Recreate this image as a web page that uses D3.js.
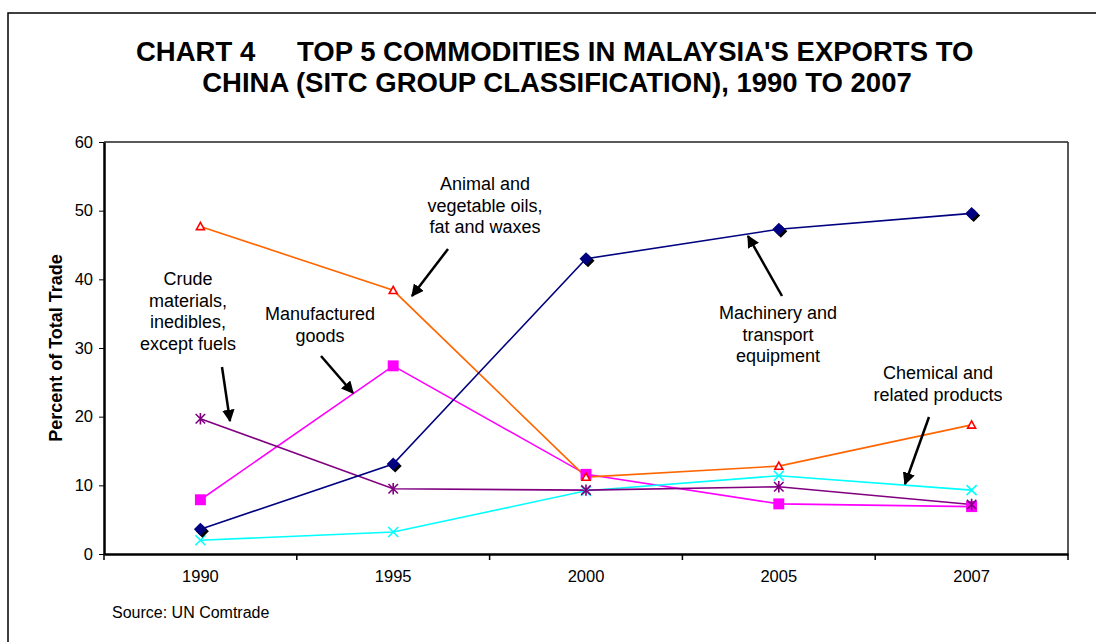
<!DOCTYPE html>
<html>
<head>
<meta charset="utf-8">
<script src="https://cdn.jsdelivr.net/npm/d3@7"></script>
<style>
  body { margin: 0; background: #fff; }
  svg { display: block; font-family: Arial, "Liberation Sans", sans-serif; }
</style>
</head>
<body>
<div id="chart"></div>
<script>
// ------------------------------------------------------------------------ //
// DATA
// ------------------------------------------------------------------------ //

var years = ["1990", "1995", "2000", "2005", "2007"];
var machinery    = [3.6, 13.1, 43.0, 47.3, 49.6];
var animalOils   = [47.7, 38.4, 11.2, 12.8, 18.8];
var manufactured = [7.9, 27.4, 11.6, 7.3, 6.9];
var crude        = [19.7, 9.5, 9.3, 9.8, 7.2];
var chemical     = [2.0, 3.2, 9.2, 11.4, 9.3];
var yTicks = [0, 10, 20, 30, 40, 50, 60];

// ------------------------------------------------------------------------ //
// SVG AREA
// ------------------------------------------------------------------------ //

var W = 1096, H = 642;
var margin = {top: 142, right: 28, bottom: 88, left: 104},
  width = W - margin.left - margin.right,
  height = H - margin.top - margin.bottom;

var svg = d3.select("#chart")
  .append("svg")
    .attr("width", W)
    .attr("height", H);

// outer frame (runs off the right and bottom of the picture)
svg.append("rect")
  .attr("x", 8).attr("y", 13)
  .attr("width", W + 20).attr("height", H + 20)
  .style("fill", "none")
  .style("stroke", "#000")
  .style("stroke-width", 1.5);

// title
var titleSize = "27.5px";
svg.append("text")
  .attr("x", 136).attr("y", 61)
  .style("font-size", titleSize).style("font-weight", "bold")
  .text("CHART 4");
svg.append("text")
  .attr("x", 297).attr("y", 61)
  .style("font-size", titleSize).style("font-weight", "bold")
  .text("TOP 5 COMMODITIES IN MALAYSIA'S EXPORTS TO");
svg.append("text")
  .attr("x", 557).attr("y", 92)
  .style("font-size", titleSize).style("font-weight", "bold")
  .style("text-anchor", "middle")
  .text("CHINA (SITC GROUP CLASSIFICATION), 1990 TO 2007");

var g = svg.append("g")
  .attr("transform", "translate(" + margin.left + "," + margin.top + ")");

// ------------------------------------------------------------------------ //
// AXIS AND SCALES
// ------------------------------------------------------------------------ //

var x = d3.scaleBand()
  .range([0, width])
  .domain(years);

var y = d3.scaleLinear()
  .range([height, 0])
  .domain([0, 60]);

// plot frame: top and right
g.append("line")
  .attr("x1", 0).attr("x2", width).attr("y1", 0).attr("y2", 0)
  .style("stroke", "#222").style("stroke-width", 1.5);
g.append("line")
  .attr("x1", width).attr("x2", width).attr("y1", 0).attr("y2", height)
  .style("stroke", "#222").style("stroke-width", 1.5);

var tickFont = "16.5px";

// Y axis
var yAxis = g.append("g")
  .call(d3.axisLeft(y).tickValues(yTicks).tickSize(5).tickPadding(6).tickSizeOuter(0));
yAxis.select(".domain").style("stroke-width", 2.5);
yAxis.selectAll("text").style("font-size", tickFont).style("font-family", "Arial, 'Liberation Sans', sans-serif");

// X axis labels (centred in the bands)
var xAxis = g.append("g")
  .attr("transform", "translate(0," + height + ")")
  .call(d3.axisBottom(x).tickSize(0).tickPadding(16).tickSizeOuter(0));
xAxis.select(".domain").style("stroke-width", 2.5);
xAxis.selectAll("text").style("font-size", tickFont).style("font-family", "Arial, 'Liberation Sans', sans-serif");

// X tick marks on the band boundaries
var boundaries = years.map(function(d){ return x(d) }).concat([x(years[years.length - 1]) + x.bandwidth()]);
g.selectAll(".xBoundTick")
  .data(boundaries)
  .enter()
  .append("line")
    .attr("class", "xBoundTick")
    .attr("x1", function(d){ return d }).attr("x2", function(d){ return d })
    .attr("y1", height).attr("y2", height + 6)
    .style("stroke", "#000").style("stroke-width", 1.5);

// Y axis title
svg.append("text")
  .attr("transform", "translate(62," + (margin.top + height / 2) + ")rotate(-90)")
  .style("text-anchor", "middle")
  .style("font-size", "18px").style("font-weight", "bold")
  .text("Percent of Total Trade");

// source
svg.append("text")
  .attr("x", 112).attr("y", 618)
  .style("font-size", "16px")
  .text("Source: UN Comtrade");

// ------------------------------------------------------------------------ //
// SHAPES
// ------------------------------------------------------------------------ //

// custom marker shapes
var symbolX = {
  draw: function(ctx, size) {
    var r = Math.sqrt(size) / 2;
    ctx.moveTo(-r, -r); ctx.lineTo(r, r);
    ctx.moveTo(-r, r); ctx.lineTo(r, -r);
  }
};
var symbolStar = {
  draw: function(ctx, size) {
    var r = Math.sqrt(size) / 2;
    ctx.moveTo(-r, -r); ctx.lineTo(r, r);
    ctx.moveTo(-r, r); ctx.lineTo(r, -r);
    ctx.moveTo(0, -r * 1.2); ctx.lineTo(0, r * 1.2);
  }
};
var symbolRhombus = {
  draw: function(ctx, size) {
    var r = Math.sqrt(size) / 2;
    ctx.moveTo(0, -r); ctx.lineTo(r, 0); ctx.lineTo(0, r); ctx.lineTo(-r, 0); ctx.closePath();
  }
};
var symbolTri = {
  draw: function(ctx, size) {
    var r = Math.sqrt(size) / 2;
    ctx.moveTo(0, -r); ctx.lineTo(r, r * 0.8); ctx.lineTo(-r, r * 0.8); ctx.closePath();
  }
};

var series = [
  {name: "Manufactured goods", values: manufactured, line: "#FF00FF", shape: d3.symbolSquare, size: 120, fill: "#FF00FF", stroke: "none"},
  {name: "Chemical", values: chemical, line: "#00FFFF", shape: symbolX, size: 100, fill: "none", stroke: "#00FFFF"},
  {name: "Crude", values: crude, line: "#800080", shape: symbolStar, size: 90, fill: "none", stroke: "#800080"},
  {name: "Animal oils", values: animalOils, line: "#FF6600", shape: symbolTri, size: 64, fill: "#fff", stroke: "#FF0000"},
  {name: "Machinery", values: machinery, line: "#000080", shape: symbolRhombus, size: 169, fill: "#000080", stroke: "none", shadow: true}
];

var lineGen = d3.line()
  .x(function(d, i){ return x(years[i]) + x.bandwidth() / 2 })
  .y(function(d){ return y(d) });

// lines
g.selectAll(".seriesLine")
  .data(series)
  .enter()
  .append("path")
    .attr("class", "seriesLine")
    .attr("d", function(d){ return lineGen(d.values) })
    .style("fill", "none")
    .style("stroke", function(d){ return d.line })
    .style("stroke-width", 1.6);

// markers
series.forEach(function(s) {
  var pts = s.values.map(function(v, i){ return {x: x(years[i]) + x.bandwidth() / 2, y: y(v)} });
  if (s.shadow) {
    g.selectAll(null)
      .data(pts)
      .enter()
      .append("path")
        .attr("d", d3.symbol().type(s.shape).size(s.size))
        .attr("transform", function(d){ return "translate(" + (d.x + 2) + "," + (d.y + 2) + ")" })
        .style("fill", "#000");
  }
  g.selectAll(null)
    .data(pts)
    .enter()
    .append("path")
      .attr("d", d3.symbol().type(s.shape).size(s.size))
      .attr("transform", function(d){ return "translate(" + d.x + "," + d.y + ")" })
      .style("fill", s.fill)
      .style("stroke", s.stroke)
      .style("stroke-width", 1.6);
});

// ------------------------------------------------------------------------ //
// ANNOTATIONS
// ------------------------------------------------------------------------ //

svg.append("defs").append("marker")
  .attr("id", "arrowhead")
  .attr("viewBox", "0 0 10 10")
  .attr("refX", 9).attr("refY", 5)
  .attr("markerWidth", 5).attr("markerHeight", 5)
  .attr("markerUnits", "strokeWidth")
  .attr("orient", "auto")
  .append("path")
    .attr("d", "M0,0L10,5L0,10Z")
    .style("fill", "#000");

var notes = [
  {lines: ["Crude", "materials,", "inedibles,", "except fuels"], cx: 188, y0: 285, from: [222, 367], to: [230, 421]},
  {lines: ["Manufactured", "goods"], cx: 320, y0: 320, from: [321, 356], to: [353, 393]},
  {lines: ["Animal and", "vegetable oils,", "fat and waxes"], cx: 485, y0: 190, from: [448, 249], to: [412, 296]},
  {lines: ["Machinery and", "transport", "equipment"], cx: 778, y0: 319, from: [782, 296], to: [748, 236]},
  {lines: ["Chemical and", "related products"], cx: 938, y0: 379, from: [929, 417], to: [905, 484]}
];

notes.forEach(function(n) {
  var t = svg.append("text")
    .style("font-size", "18px")
    .style("text-anchor", "middle");
  n.lines.forEach(function(l, i) {
    t.append("tspan")
      .attr("x", n.cx)
      .attr("y", n.y0 + i * 21.5)
      .text(l);
  });
  svg.append("line")
    .attr("x1", n.from[0]).attr("y1", n.from[1])
    .attr("x2", n.to[0]).attr("y2", n.to[1])
    .style("stroke", "#000")
    .style("stroke-width", 2.5)
    .attr("marker-end", "url(#arrowhead)");
});
</script>
</body>
</html>
